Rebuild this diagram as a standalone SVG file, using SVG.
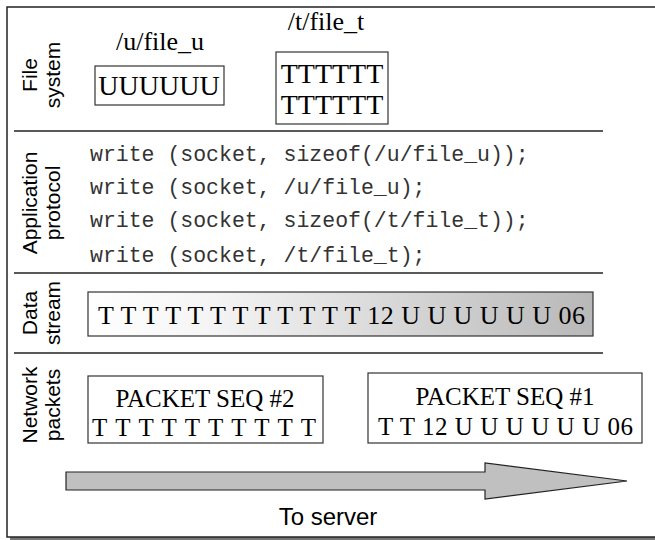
<svg xmlns="http://www.w3.org/2000/svg" width="655" height="540" viewBox="0 0 655 540">
<style>
.lbl{font-family:"Liberation Sans",Arial,sans-serif;font-size:21px;fill:#000;text-anchor:middle}
.big{font-family:"Liberation Sans",Arial,sans-serif;font-size:24px;fill:#000;text-anchor:middle}
.ser{font-family:"Liberation Serif","Times New Roman",serif;fill:#000}
.mono{font-family:"Liberation Mono","Courier New",monospace;font-size:21.5px;fill:#333}
.box{fill:#fff;stroke:#333;stroke-width:1.2}
.sep{stroke:#222;stroke-width:1.5;fill:none}
</style>
<defs>
<linearGradient id="g" x1="0" y1="0" x2="1" y2="0">
<stop offset="0" stop-color="#ffffff"/>
<stop offset="0.25" stop-color="#f4f4f4"/>
<stop offset="1" stop-color="#b8b8b8"/>
</linearGradient>
</defs>
<rect x="0" y="0" width="655" height="540" fill="#fff"/>
<g id="frame">
<rect x="10" y="10" width="660" height="530" fill="#777"/>
<rect x="7" y="7" width="660" height="530" fill="#fff" stroke="#222" stroke-width="1.5"/>
</g>
<g id="separators">
<line class="sep" x1="14" y1="131" x2="603" y2="131"/>
<line class="sep" x1="14" y1="273" x2="603" y2="273"/>
<line class="sep" x1="14" y1="353" x2="603" y2="353"/>
</g>
<g id="label-file-system">
<text class="lbl" transform="translate(37,75) rotate(-90)">File</text>
<text class="lbl" transform="translate(60,75) rotate(-90)">system</text>
</g>
<g id="label-application-protocol">
<text class="lbl" transform="translate(37,203) rotate(-90)">Application</text>
<text class="lbl" transform="translate(60,203) rotate(-90)">protocol</text>
</g>
<g id="label-data-stream">
<text class="lbl" transform="translate(37,313) rotate(-90)">Data</text>
<text class="lbl" transform="translate(60,313) rotate(-90)">stream</text>
</g>
<g id="label-network-packets">
<text class="lbl" transform="translate(37,405) rotate(-90)">Network</text>
<text class="lbl" transform="translate(60,405) rotate(-90)">packets</text>
</g>
<g id="file-u">
<text class="ser" x="160" y="50" font-size="26" text-anchor="middle">/u/file_u</text>
<rect class="box" x="95" y="66" width="129" height="39"/>
<text class="ser" x="159" y="95" font-size="28" text-anchor="middle">UUUUUU</text>
</g>
<g id="file-t">
<text class="ser" x="326" y="30" font-size="26" text-anchor="middle">/t/file_t</text>
<rect class="box" x="276" y="52" width="112" height="72"/>
<text class="ser" x="332" y="83" font-size="28" text-anchor="middle">TTTTTT</text>
<text class="ser" x="332" y="114" font-size="28" text-anchor="middle">TTTTTT</text>
</g>
<g id="app-protocol">
<text class="mono" x="90" y="161">write (socket, sizeof(/u/file_u));</text>
<text class="mono" x="90" y="194">write (socket, /u/file_u);</text>
<text class="mono" x="90" y="227">write (socket, sizeof(/t/file_t));</text>
<text class="mono" x="90" y="262">write (socket, /t/file_t);</text>
</g>
<g id="data-stream">
<rect x="88" y="292" width="505" height="44" fill="url(#g)" stroke="#333" stroke-width="1.2"/>
<text class="ser" x="98" y="324" font-size="26" textLength="487" lengthAdjust="spacing">T T T T T T T T T T T T 12 U U U U U U 06</text>
</g>
<g id="packet-2">
<rect class="box" x="88" y="376" width="235" height="67"/>
<text class="ser" x="205" y="407" font-size="25" text-anchor="middle">PACKET SEQ #2</text>
<text class="ser" x="92" y="436" font-size="25" textLength="224" lengthAdjust="spacing">T T T T T T T T T T</text>
</g>
<g id="packet-1">
<rect class="box" x="368" y="373" width="274" height="70"/>
<text class="ser" x="505" y="405" font-size="25" text-anchor="middle">PACKET SEQ #1</text>
<text class="ser" x="378" y="435" font-size="25" textLength="255" lengthAdjust="spacing">T T 12 U U U U U U 06</text>
</g>
<g id="connectors">
<polygon points="66,472 485,472 485,463 627,481 485,499 485,490 66,490" fill="#c0c0c0" stroke="#222" stroke-width="1.2"/>
</g>
<g id="to-server">
<text class="big" x="328" y="525">To server</text>
</g>
</svg>
